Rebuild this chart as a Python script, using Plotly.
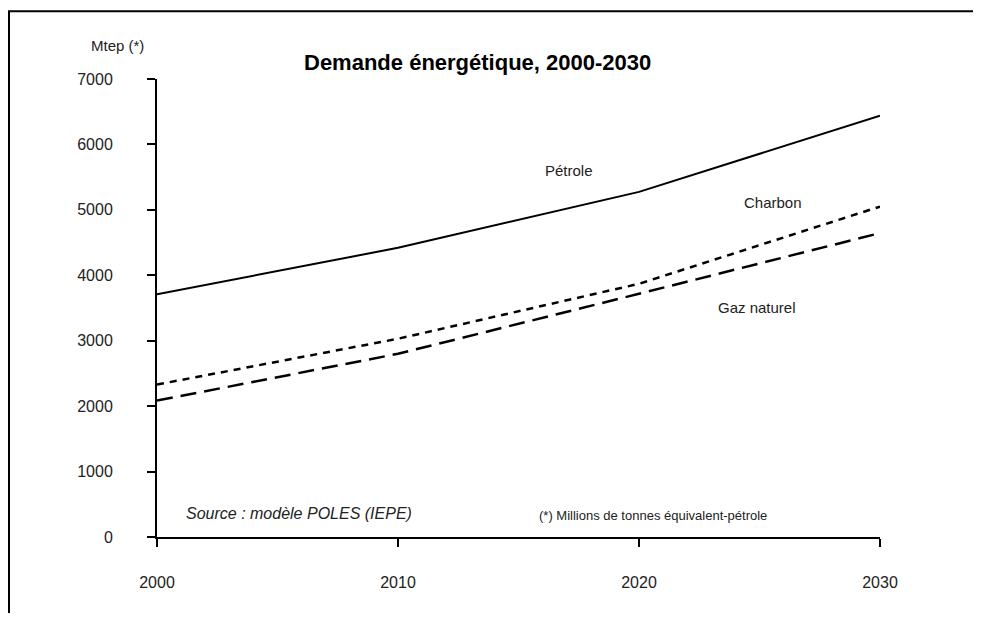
import plotly.graph_objects as go

years = [2000, 2010, 2020, 2030]
petrole = [3710, 4420, 5275, 6440]
charbon = [2330, 3030, 3870, 5050]
gaz = [2085, 2800, 3717, 4645]

x_ticks = [2000, 2010, 2020, 2030]
y_ticks = [0, 1000, 2000, 3000, 4000, 5000, 6000, 7000]

SANS = "Liberation Sans, Arial"
TXT = "#222"

fig = go.Figure()
fig.add_trace(go.Scatter(x=years, y=petrole, mode="lines", name="Pétrole",
                         line=dict(color="black", width=2, dash="solid")))
fig.add_trace(go.Scatter(x=years, y=charbon, mode="lines", name="Charbon",
                         line=dict(color="black", width=2.5, dash="7px,6px")))
fig.add_trace(go.Scatter(x=years, y=gaz, mode="lines", name="Gaz naturel",
                         line=dict(color="black", width=2.5, dash="16px,8px")))

fig.update_layout(
    width=965, height=605,
    margin=dict(l=149, r=93, t=71, b=75.5),
    paper_bgcolor="white", plot_bgcolor="white",
    showlegend=False,
    font=dict(family=SANS, size=15, color=TXT),
)
fig.update_xaxes(range=[2000, 2030], tickvals=x_ticks, ticktext=[str(v) for v in x_ticks],
                 showgrid=False, zeroline=False, showline=True, linecolor="black", linewidth=2,
                 ticks="outside", ticklen=8, tickwidth=2, tickcolor="black",
                 ticklabelstandoff=22, tickfont=dict(family=SANS, size=16, color=TXT))
fig.update_yaxes(range=[0, 7000], tickvals=y_ticks, ticktext=[str(v) for v in y_ticks],
                 showgrid=False, zeroline=False, showline=True, linecolor="black", linewidth=2,
                 ticks="outside", ticklen=8, tickwidth=2, tickcolor="black",
                 ticklabelstandoff=31, tickfont=dict(family=SANS, size=16, color=TXT))

# outer frame (extends beyond right and bottom edges)
fig.add_shape(type="rect", xref="paper", yref="paper",
              x0=-0.2047, x1=1.2, y0=-0.25, y1=1.148,
              line=dict(color="black", width=2), layer="above")

ann = [
    dict(text="<b>Demande énergétique, 2000-2030</b>", xref="paper", yref="paper",
         x=0.443, y=1.037, font=dict(family=SANS, size=22, color="black")),
    dict(text="Mtep (*)", xref="paper", yref="paper", x=-0.0553, y=1.074,
         font=dict(family=SANS, size=15, color=TXT)),
    dict(text="Pétrole", xref="x", yref="y", x=2017.1, y=5600,
         font=dict(family=SANS, size=15, color=TXT)),
    dict(text="Charbon", xref="x", yref="y", x=2025.55, y=5107,
         font=dict(family=SANS, size=15, color=TXT)),
    dict(text="Gaz naturel", xref="x", yref="y", x=2024.9, y=3504,
         font=dict(family=SANS, size=15, color=TXT)),
    dict(text="<i>Source : modèle POLES (IEPE)</i>", xref="x", yref="y", x=2005.9, y=359,
         font=dict(family=SANS, size=16, color=TXT)),
    dict(text="(*) Millions de tonnes équivalent-pétrole", xref="x", yref="y", x=2020.6, y=336,
         font=dict(family=SANS, size=13, color=TXT)),
]
for a in ann:
    fig.add_annotation(showarrow=False, xanchor="center", yanchor="middle", **a)

fig.write_html("out.html")
